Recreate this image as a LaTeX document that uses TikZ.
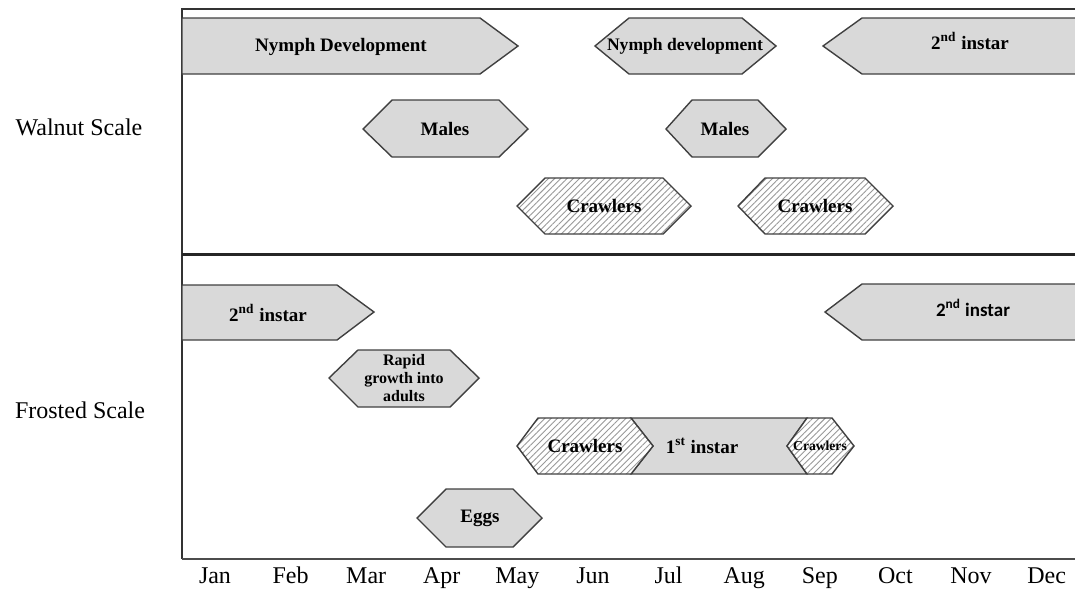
\documentclass[tikz,border=0pt]{standalone}
\usepackage{fontspec}
\setmainfont{Liberation Serif}
\newfontfamily\carlito{Carlito}
\usetikzlibrary{patterns.meta}
\tikzset{
  line join=miter,
}
\tikzstyle{stage}=[draw=black!75,line width=.7pt,fill=black!15]
\tikzstyle{crawl}=[draw=black!75,line width=.7pt,preaction={fill=white},
  pattern={Lines[angle=45,distance=2.2pt,line width=.45pt]},pattern color=black!40]
\tikzstyle{lbl}=[font=\fontsize{9.5}{11}\selectfont\bfseries]
\tikzstyle{axis}=[font=\fontsize{12}{14}\selectfont]

\begin{document}
\begin{tikzpicture}[x=0.5pt,y=-0.5pt]
    \useasboundingbox (0,0) rectangle (1075,590);
    % frame
    \draw[line width=.75pt,black!80] (1075,9)--(182,9)--(182,559);
    \draw[line width=1.5pt,black!85] (182,254)--(1075,254);
    \draw[line width=1pt,black!70] (182,559)--(1075,559);
    \node[axis] (walnut) at (79,127) {Walnut Scale};
    \node[axis] (frosted) at (80,410) {Frosted Scale};
    \foreach \m [count=\i from 0] in {Jan,Feb,Mar,Apr,May,Jun,Jul,Aug,Sep,Oct,Nov,Dec}
      \node[axis,anchor=base] (m\i) at (215+75.6*\i,583) {\m};
    % walnut scale
    \draw[stage] (182,18)--(480,18)--(518,46)--(480,74)--(182,74)--cycle;
    \node[lbl] (nymphA) at (341,47) {Nymph Development};
    \draw[stage] (595,46)--(629,18)--(742,18)--(776,46)--(742,74)--(629,74)--cycle;
    \node[lbl,font=\fontsize{8.8}{10}\selectfont\bfseries] (nymphB) at (685,46) {Nymph development};
    \draw[stage] (1076,18)--(862,18)--(823,46)--(862,74)--(1076,74);
    \node[lbl] (instarA) at (970,41) {2\textsuperscript{nd} instar};
    \draw[stage] (363,129)--(392,100)--(499,100)--(528,129)--(499,157)--(392,157)--cycle;
    \node[lbl] (malesA) at (445,129) {Males};
    \draw[stage] (666,129)--(692,100)--(758,100)--(786,129)--(758,157)--(692,157)--cycle;
    \node[lbl] (malesB) at (725,129) {Males};
    \draw[crawl] (517,206)--(545,178)--(663,178)--(691,206)--(663,234)--(545,234)--cycle;
    \node[lbl] (crawlA) at (604,206) {Crawlers};
    \draw[crawl] (738,206)--(765,178)--(865,178)--(893,206)--(865,234)--(765,234)--cycle;
    \node[lbl] (crawlB) at (815,206) {Crawlers};
    % frosted scale
    \draw[stage] (182,285)--(337,285)--(374,312)--(337,340)--(182,340)--cycle;
    \node[lbl] (instarB) at (268,313) {2\textsuperscript{nd} instar};
    \draw[stage] (1076,284)--(862,284)--(825,312)--(862,340)--(1076,340);
    \node[lbl,font=\fontsize{9.5}{11}\carlito\bfseries] (instarC) at (973,308) {2\textsuperscript{nd} instar};
    \draw[stage] (329,378)--(358,350)--(450,350)--(479,378)--(450,407)--(358,407)--cycle;
    \node[lbl,align=center,font=\fontsize{8}{9}\selectfont\bfseries] (rapid) at (404,378) {Rapid\\growth into\\adults};
    \draw[stage] (631,418)--(807,418)--(787,446)--(807,474)--(631,474)--(653,446)--cycle;
    \node[lbl] (first) at (702,446) {1\textsuperscript{st} instar};
    \draw[crawl] (517,446)--(538,418)--(631,418)--(653,446)--(631,474)--(538,474)--cycle;
    \node[lbl] (crawlC) at (585,446) {Crawlers};
    \draw[crawl] (787,446)--(807,418)--(832,418)--(854,446)--(832,474)--(807,474)--cycle;
    \node[lbl,font=\fontsize{6.8}{8}\selectfont\bfseries] (crawlD) at (820,446) {Crawlers};
    \draw[stage] (417,518)--(446,489)--(513,489)--(542,518)--(513,547)--(446,547)--cycle;
    \node[lbl] (eggs) at (480,518) {Eggs};
  \end{tikzpicture}
\end{document}
